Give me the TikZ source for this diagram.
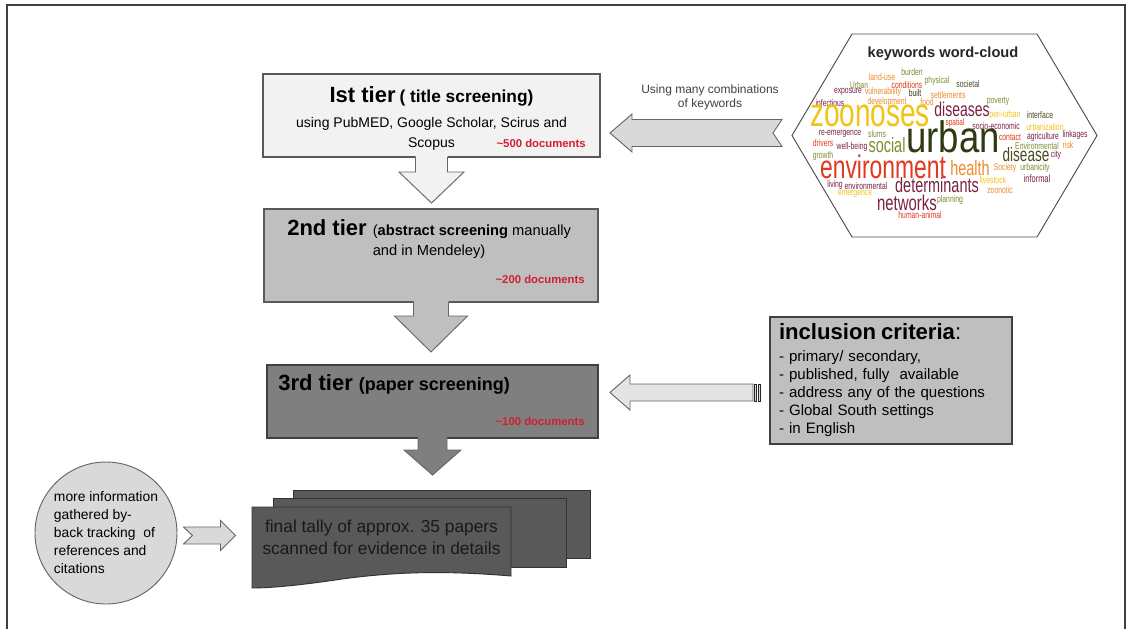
\documentclass[tikz,border=0pt]{standalone}
\usepackage{fontspec}
\setmainfont{Liberation Sans}
\usetikzlibrary{calc, positioning}

\definecolor{tierone}{HTML}{F2F2F2}
\definecolor{tiertwo}{HTML}{BFBFBF}
\definecolor{tierthree}{HTML}{7F7F7F}
\definecolor{docgray}{HTML}{595959}
\definecolor{arrgray}{HTML}{D9D9D9}
\definecolor{docred}{HTML}{D02030}
\definecolor{wcyellow}{HTML}{F2C314}
\definecolor{wcorange}{HTML}{EE8B2B}
\definecolor{wcred}{HTML}{E3381F}
\definecolor{wcmaroon}{HTML}{7B2142}
\definecolor{wcolive}{HTML}{7E8C2E}
\definecolor{wcdark}{HTML}{4B4A1E}
\definecolor{wcgreen}{HTML}{2F3A12}

\tikzset{
  frame/.style={draw=black!75, line width=1.5pt},
  tierbox/.style={draw=black!65, line width=0.8pt, inner sep=0pt, outer sep=0pt},
  blockarr/.style={draw=black!60, line width=0.7pt},
  docnum/.style={text=docred, font=\fontsize{8.5}{10}\selectfont\bfseries, anchor=base east, inner sep=0pt},
  docshape/.style={draw=black!80, line width=0.7pt, fill=docgray},
  cw/.style={inner sep=0pt, transform shape, xscale=0.7},
}

\newcommand{\tiername}{\fontsize{16.5}{18}\selectfont\bfseries}
\newcommand{\tierarrow}[6]{%
  \coordinate (s) at (#1.south);
  \fill[#6] ($(s)+(-#2,-1)$) -- ($(s)+(-#2,#3)$) -- ($(s)+(-#4,#3)$) -- ($(s)+(0,#3+#5)$)
    -- ($(s)+(#4,#3)$) -- ($(s)+(#2,#3)$) -- ($(s)+(#2,-1)$) -- cycle;
  \draw[blockarr] ($(s)+(-#2,0)$) -- ($(s)+(-#2,#3)$) -- ($(s)+(-#4,#3)$) -- ($(s)+(0,#3+#5)$)
    -- ($(s)+(#4,#3)$) -- ($(s)+(#2,#3)$) -- ($(s)+(#2,0)$);
}

\begin{document}
\begin{tikzpicture}[x=0.75pt, y=-0.75pt]
  \useasboundingbox (0,0) rectangle (1130,629);
  \draw[frame] (7,629) -- (7,5) -- (1125,5) -- (1125,629);

  \node[tierbox, fill=tierone, minimum width=252.75pt, minimum height=62.25pt, align=center,
        font=\fontsize{10.5}{15}\selectfont] (t1) at (431.5,115.5)
        {\rule{0pt}{16pt}{\tiername Ist tier} {\bfseries\fontsize{13}{15}\selectfont( title screening)}\\[3.75pt]
         using PubMED, Google Scholar, Scirus and\\ Scopus};
  \node[docnum] (n1) at ($(t1.south east)+(-14,-10)$) {\textasciitilde 500 documents};

  \node[tierbox, fill=tiertwo, minimum width=250.5pt, minimum height=69.75pt] (t2) at (431,255.5) {};
  \node[anchor=base west, inner sep=0pt, font=\fontsize{11}{15}\selectfont] (t2txt)
        at ($(t2.north west)+(23,26)$)
        {{\tiername 2nd tier }\begin{tabular}[t]{@{}l@{}}(\textbf{abstract screening} manually\\ and in Mendeley)\end{tabular}};
  \node[docnum] (n2) at ($(t2.south east)+(-13,-19)$) {\textasciitilde 200 documents};

  \node[tierbox, draw=black!75, fill=tierthree, minimum width=248.25pt, minimum height=54.75pt] (t3) at (432.5,401.5) {};
  \node[anchor=base west, inner sep=0pt] (t3txt) at ($(t3.north west)+(11,25)$)
        {{\tiername 3rd tier }{\bfseries\fontsize{13.5}{15}\selectfont(paper screening)}};
  \node[docnum] (n3) at ($(t3.south east)+(-13,-13)$) {\textasciitilde 100 documents};

  \tierarrow{t1}{16}{15}{32.5}{31}{tierone}
  \tierarrow{t2}{17.5}{14}{36.5}{36}{tiertwo}
  \tierarrow{t3}{14.5}{12}{28.5}{25}{tierthree}

  \node[tierbox, draw=black!75, fill=tiertwo, minimum width=181.5pt, minimum height=95.25pt,
        text width=168pt, align=left, font=\fontsize{11.3}{13.5}\selectfont] (incl) at (891,380.5)
        {{\fontsize{16.6}{18}\selectfont\textbf{inclusion criteria}:}\\[3pt]
         - primary/ secondary,\\ - published, fully\ \ available\\ - address any of the questions\\
         - Global South settings\\ - in English};

  \coordinate (tipB) at ($(t3.east)+(12,-9)$);
  \draw[blockarr, fill=arrgray!70!white] (tipB) -- ++(20,-17.5) -- ++(0,9) -- ++(123,0) -- ++(0,17)
        -- ++(-123,0) -- ++(0,9) -- cycle;
  \draw[blockarr, draw=black!85, fill=arrgray] ($(tipB)+(144.5,-8.5)$) rectangle ++(2,17);
  \draw[blockarr, draw=black!85, fill=arrgray] ($(tipB)+(148,-8.5)$) rectangle ++(2.5,17);

  \node[minimum width=228.75pt, minimum height=152.25pt, inner sep=0pt, outer sep=0pt] (cloud) at (944.5,135.5) {};
  \draw[draw=black!70, line width=0.7pt, fill=white] (cloud.west) -- ($(cloud.north west)+(60,0)$)
        -- ($(cloud.north east)+(-60,0)$) -- (cloud.east) -- ($(cloud.south east)+(-60,0)$)
        -- ($(cloud.south west)+(60,0)$) -- cycle;
  \node[anchor=base, inner sep=0pt, text=black!85, font=\fontsize{11}{13}\selectfont\bfseries] (cloudtitle)
        at ($(cloud.north)+(-1.5,23)$) {keywords word-cloud};
  \foreach \wx/\wy/\ws/\wc/\ww [count=\i] in {
      912/72/7.3/wcolive/burden, 882/77/7.3/wcorange/land-use, 937/81/7.3/wcolive/physical,
      968/84/7.3/wcdark/societal, 859/85/7/wcolive/Urban, 907/85/7.3/wcred/conditions,
      848/92/7.3/wcmaroon/exposure, 883/92/7.3/wcorange/vulnerability, 915/93/7.3/wcgreen/built,
      948/95/7.3/wcorange/settlements, 830/103/7.3/wcmaroon/infectious, 887/102/7.3/wcorange/development,
      927/102/7.3/wcorange/food, 998/101/7.3/wcolive/poverty, 870/116/30/wcyellow/zoonoses,
      962/109/15/wcmaroon/diseases, 1005/115/7.3/wcyellow/peri-urban, 1040/115/7.3/wcdark/interface,
      955/123/7/wcred/spatial, 996/126/7.3/wcmaroon/socio-economic, 1045/127/7.3/wcyellow/urbanization,
      840/134/7.3/wcmaroon/re-emergence, 877/134/7.3/wcolive/slums,
      1010/137/7.3/wcred/contact, 1043/137/7.3/wcmaroon/agriculture, 1075/135/7.3/wcmaroon/linkages,
      823/143/7.3/wcred/drivers, 852/147/7.3/wcmaroon/well-being, 887/145/15.5/wcolive/social,
      1037/146/7.3/wcolive/Environmental, 1068/145/7.3/wcorange/risk, 823/156/7.3/wcolive/growth,
      1026/155/14.5/wcdark/disease, 1056/155/7.3/wcmaroon/city, 883/167/24.5/wcred/environment,
      970/168/15.5/wcorange/health, 1005/168/7.3/wcorange/Society, 1035/168/7.3/wcolive/urbanicity,
      993/180/7.3/wcyellow/livestock, 1037/179/8/wcmaroon/informal, 835/185/7.3/wcmaroon/living,
      866/186/7.3/wcmaroon/environmental, 937/185/15.5/wcmaroon/determinants, 1000/190/7.3/wcorange/zoonotic,
      855/194/7.3/wcyellow/emergence, 907/203/16/wcmaroon/networks, 950/200/7.3/wcolive/planning,
      920/215/7.3/wcred/human-animal}
    \node[cw, text=\wc, font=\fontsize{\ws}{\ws}\selectfont] (w\i) at (\wx,\wy) {\ww};
  \node[inner sep=0pt, transform shape, xscale=0.83, text=wcgreen, font=\fontsize{33}{33}\selectfont] (wurban)
        at (953,137) {urban};

  \coordinate (tipA) at ($(t1.east)+(10,17.5)$);
  \draw[blockarr, fill=arrgray] (tipA) -- ++(22,-19) -- ++(0,5.5) -- ++(150,0) -- ++(-9,13.5)
        -- ++(9,13.5) -- ++(-150,0) -- ++(0,5.5) -- cycle;
  \node[align=center, inner sep=0pt, text=black!75, font=\fontsize{9}{10.5}\selectfont] (kwnote)
        at (710,97) {Using many combinations\\ of keywords};

  \coordinate (fin) at (381.5,537);
  \draw[docshape] ($(fin)+(-88.5,-47)$) rectangle ($(fin)+(208.5,21)$);
  \draw[docshape] ($(fin)+(-108.5,-39)$) rectangle ($(fin)+(184.5,30)$);
  \draw[docshape] ($(fin)+(-129.5,-30)$) -- ($(fin)+(129.5,-30)$) -- ($(fin)+(129.5,39)$)
        .. controls ($(fin)+(69.5,34)$) and ($(fin)+(19.5,34)$) .. ($(fin)+(-39.5,42)$)
        .. controls ($(fin)+(-79.5,48)$) and ($(fin)+(-109.5,51)$) .. ($(fin)+(-129.5,51)$) -- cycle;
  \node[align=center, inner sep=0pt, text=black!90, font=\fontsize{13}{16.5}\selectfont] (final)
        at (fin) {final tally of approx. 35 papers\\ scanned for evidence in details};

  \node[circle, draw=black!60, line width=0.7pt, fill=arrgray, minimum size=106.5pt, inner sep=0pt,
        align=left, font=\fontsize{10.4}{13.5}\selectfont] (more) at (106,533)
        {more information\\ gathered by-\\ back tracking\ \ of\\ references and\\ citations};
  \coordinate (tailC) at ($(more.east)+(6,2.5)$);
  \draw[blockarr, fill=arrgray] ($(tailC)+(0,-8.5)$) -- ++(37,0) -- ++(0,-6.5) -- ++(15,15)
        -- ++(-15,15) -- ++(0,-6.5) -- ++(-37,0) -- ++(9,-8.5) -- cycle;
\end{tikzpicture}
\end{document}
